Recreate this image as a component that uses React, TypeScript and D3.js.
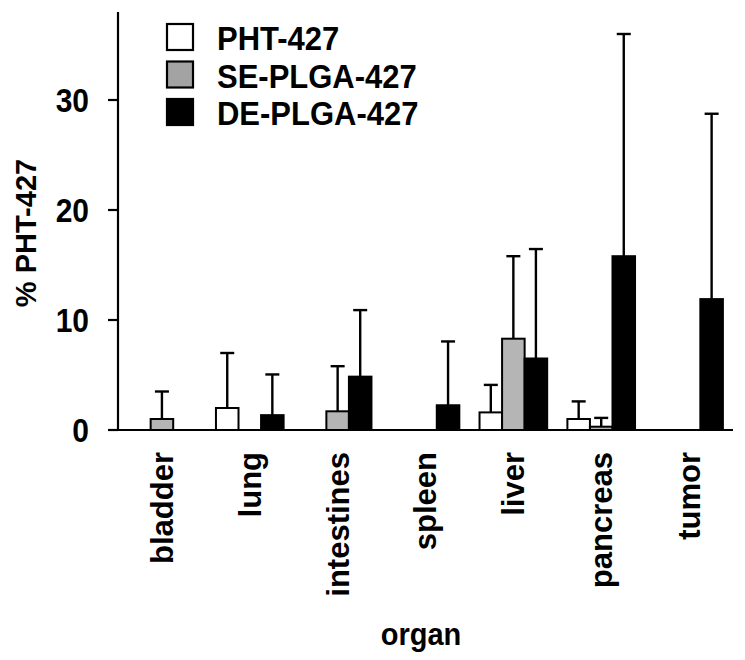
import React from "react";
import * as d3 from "d3";

const categories = ["bladder", "lung", "intestines", "spleen", "liver", "pancreas", "tumor"];
const seriesNames = ["PHT-427", "SE-PLGA-427", "DE-PLGA-427"];
const phtMean: (number | null)[] = [null, 2.0, null, null, 1.6, 1.0, null];
const phtSD: (number | null)[] = [null, 5.0, null, null, 2.5, 1.6, null];
const seMean: (number | null)[] = [1.0, null, 1.7, null, 8.3, 0.3, null];
const seSD: (number | null)[] = [2.5, null, 4.1, null, 7.5, 0.8, null];
const deMean: (number | null)[] = [null, 1.35, 4.85, 2.25, 6.5, 15.8, 11.9];
const deSD: (number | null)[] = [null, 3.7, 6.05, 5.8, 9.95, 20.2, 16.85];
const yTicks = [0, 10, 20, 30];

const fills = ["#ffffff", "#b5b5b5", "#000000"];
const legendFills = ["#ffffff", "#a3a3a3", "#000000"];

const W = 745;
const H = 660;
const left = 118;
const right = 733;
const top = 12;
const bottom = 430;
const FONT = "'Liberation Sans', Arial, Helvetica, sans-serif";

export default function App() {
  const x = d3.scaleBand<string>().domain(categories).range([left, right]).paddingInner(0.23).paddingOuter(0.115);
  const xs = d3.scaleBand<string>().domain(seriesNames).range([0, x.bandwidth()]);
  const y = d3.scaleLinear().domain([0, 38]).range([bottom, top]);
  const means = [phtMean, seMean, deMean];
  const sds = [phtSD, seSD, deSD];

  const bars: React.ReactNode[] = [];
  const errs: React.ReactNode[] = [];
  categories.forEach((c, ci) => {
    seriesNames.forEach((s, si) => {
      const m = means[si][ci];
      const sd = sds[si][ci];
      if (m == null) return;
      const bx = (x(c) as number) + (xs(s) as number);
      const bw = xs.bandwidth();
      const cx = bx + bw / 2;
      if (sd != null) {
        errs.push(
          <g key={`e-${ci}-${si}`} stroke="#000" strokeWidth={2.4}>
            <line x1={cx} x2={cx} y1={y(m)} y2={y(m + sd)} />
            <line x1={cx - 7} x2={cx + 7} y1={y(m + sd)} y2={y(m + sd)} />
          </g>
        );
      }
      bars.push(
        <rect key={`b-${ci}-${si}`} x={bx} y={y(m)} width={bw} height={bottom - y(m)}
          fill={fills[si]} stroke="#000" strokeWidth={2} />
      );
    });
  });

  return (
    <svg width={W} height={H} style={{ position: "absolute", left: 0, top: 0, background: "#fff" }}
      fontFamily={FONT} fontWeight="bold">
      {errs}
      {bars}
      <line x1={left} x2={left} y1={top} y2={bottom} stroke="#000" strokeWidth={2.2} />
      <line x1={left} x2={right} y1={bottom} y2={bottom} stroke="#000" strokeWidth={2.2} />
      {yTicks.map((t) => (
        <g key={t}>
          <line x1={left - 10} x2={left} y1={y(t)} y2={y(t)} stroke="#000" strokeWidth={2.2} />
          <text transform={`translate(89,${y(t)}) scale(1,1.1)`} dy="0.36em" textAnchor="end" fontSize={30} fill="#000">{t}</text>
        </g>
      ))}
      {categories.map((c) => {
        const cx = (x(c) as number) + x.bandwidth() / 2;
        return (
          <text key={c} transform={`translate(${cx},452) rotate(-90)`} dy="0.35em" textAnchor="end"
            fontSize={31} fill="#000">{c}</text>
        );
      })}
      <text transform={`translate(26,233) rotate(-90)`} dy="0.35em" textAnchor="middle" fontSize={29} fill="#000">% PHT-427</text>
      <text transform="translate(421,645) scale(1,1.1)" textAnchor="middle" fontSize={29} fill="#000">organ</text>
      {seriesNames.map((s, i) => (
        <g key={s} transform={`translate(0,${37 + i * 37.5})`}>
          <rect x={167} y={-13} width={26} height={26} fill={legendFills[i]} stroke="#000" strokeWidth={2.2} />
          <text transform="translate(217,13) scale(1,1.05)" fontSize={31} fill="#000">{s}</text>
        </g>
      ))}
    </svg>
  );
}
